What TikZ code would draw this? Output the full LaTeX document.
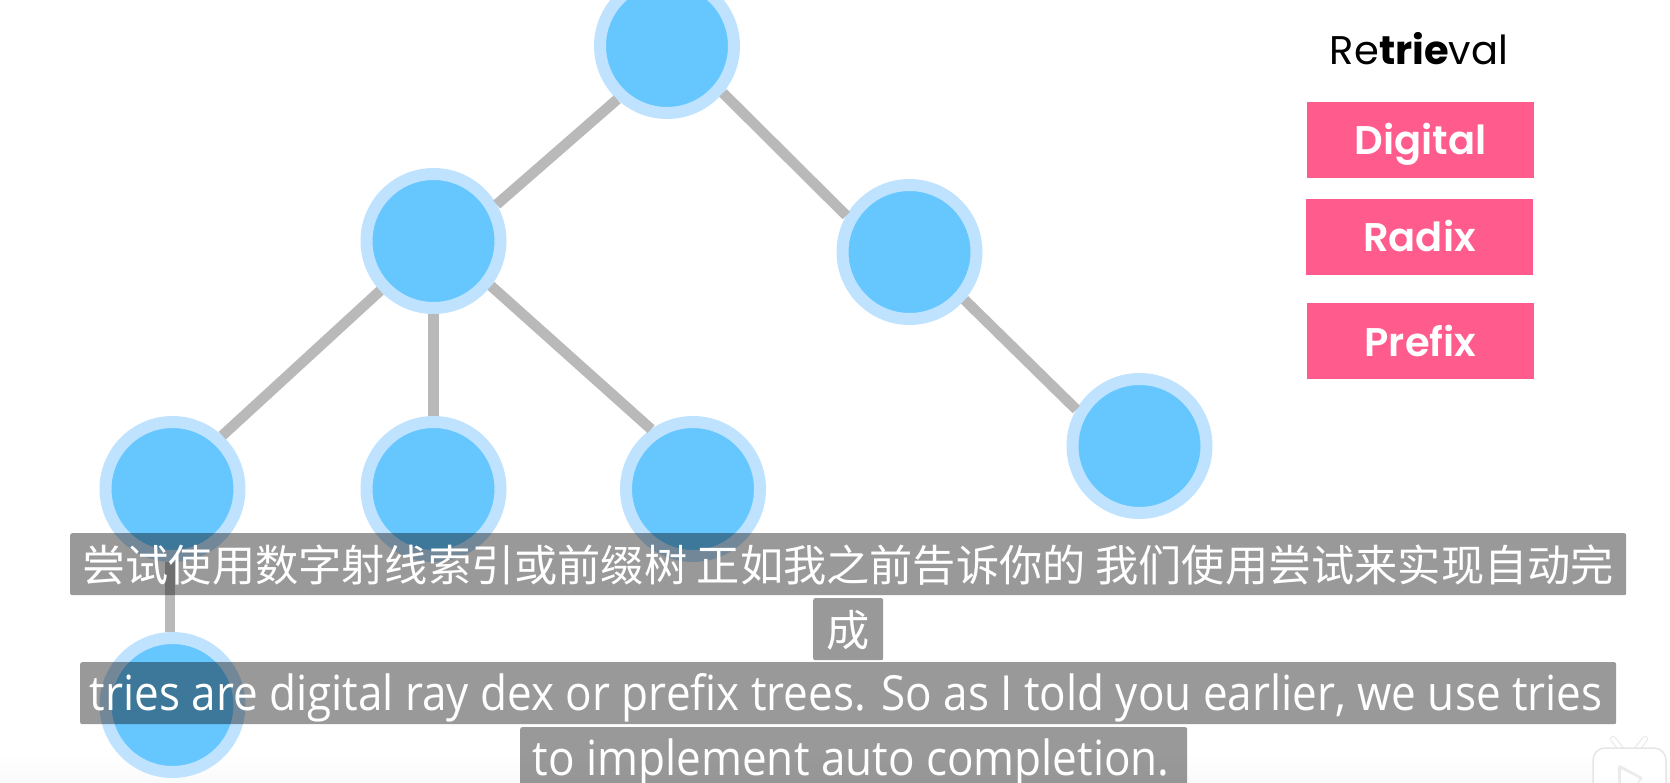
\documentclass[tikz,border=0pt]{standalone}
\usepackage{fontspec}
\usetikzlibrary{positioning}
\setmainfont{Poppins}
\newfontfamily\semifont[UprightFont={* SemiBold}]{Poppins}
\newfontfamily\capfont[FakeStretch=0.91]{Open Sans}
\newfontfamily\cjkfont{Noto Sans CJK SC}
\definecolor{nodeblue}{HTML}{66C7FF}
\definecolor{ringblue}{HTML}{BFE3FF}
\definecolor{linkgray}{HTML}{B9B9B9}
\definecolor{tagpink}{HTML}{FF5C8D}
\definecolor{logoedge}{HTML}{E6E6E6}
\tikzset{
  tnode/.style={circle, fill=nodeblue, draw=ringblue, line width=12pt, minimum size=134pt, inner sep=0pt},
  link/.style={draw=linkgray, line width=10.5pt},
  tag/.style={fill=tagpink, text=white, minimum width=227pt, inner sep=0pt, text height=53pt, text depth=23pt, font=\fontsize{40}{44}\semifont},
  capbox/.style={fill=black, fill opacity=0.4, text opacity=1, text=white, rounded corners=2pt, anchor=north west, inner sep=0pt, text height=48pt, text depth=14pt, align=center},
  ear/.style={line width=6pt, line cap=round},
}
\begin{document}
\begin{tikzpicture}[x=1pt, y=-1pt]

\useasboundingbox (0,0) rectangle (1670,783);

% page edge
\shade [top color=white, bottom color=black!2] (0,755) rectangle (1670,783);

% tree
\node [tnode] (root)  at (667,46)    {};
\node [tnode] (left)  at (433.5,241) {};
\node [tnode] (right) at (909.5,252) {};
\node [tnode] (la)    at (172.5,489) {};
\node [tnode] (lb)    at (433.5,489) {};
\node [tnode] (lc)    at (693,489)   {};
\node [tnode] (rd)    at (1139.5,446) {};
\node [tnode] (laa)   at (172.5,705) {};

\path [link] (root.227) -- (left.30);
\path [link] (root.-40) -- (right.150);
\path [link] (left.223) -- (la.47);
\path [link] (left.south) -- (lb.north);
\path [link] (left.-38) -- (lc.125);
\path [link] (right.-41) -- (rd.150);
\path [link] (la.268) -- (laa.92);

% names
\node [anchor=base, font=\fontsize{40}{44}\selectfont] (title) at (1419,65) {Re\textbf{trie}val};
\node [tag] (digital) at (1420.5,140) {Digital};
\node [tag] (radix)   at (1419.5,237) {Radix};
\node [tag] (prefix)  at (1420.5,341) {Prefix};

% captions
\node [capbox, minimum width=1556pt] (capa) at (70,533)  {\fontsize{43.2}{48}\cjkfont 尝试使用数字射线索引或前缀树 正如我之前告诉你的 我们使用尝试来实现自动完};
\node [capbox, minimum width=70pt]   (capb) at (813,598) {\fontsize{43.2}{48}\cjkfont 成};
\node [capbox, minimum width=1536pt] (capc) at (80,662)  {\fontsize{48.4}{52}\capfont tries are digital ray dex or prefix trees. So as I told you earlier, we use tries\kern4pt};
\node [capbox, minimum width=667pt]  (capd) at (520,727) {\fontsize{48.4}{52}\capfont to implement auto completion.\kern5pt};

% player logo
\draw [ear, logoedge] (1613,739) -- (1621,749) (1645,739) -- (1637,749);
\draw [ear, white, line width=4pt] (1613,739) -- (1621,749) (1645,739) -- (1637,749);
\fill [white, draw=logoedge, line width=1.5pt, rounded corners=12pt] (1593,790) -- (1593,748) -- (1666,748) -- (1666,790);
\fill [black!8, rounded corners=3pt] (1618,764) -- (1644,778) -- (1630,790) -- (1618,790) -- cycle;
\fill [white, rounded corners=2pt] (1621,769) -- (1640,779) -- (1630,790) -- (1621,790) -- cycle;

\end{tikzpicture}
\end{document}
